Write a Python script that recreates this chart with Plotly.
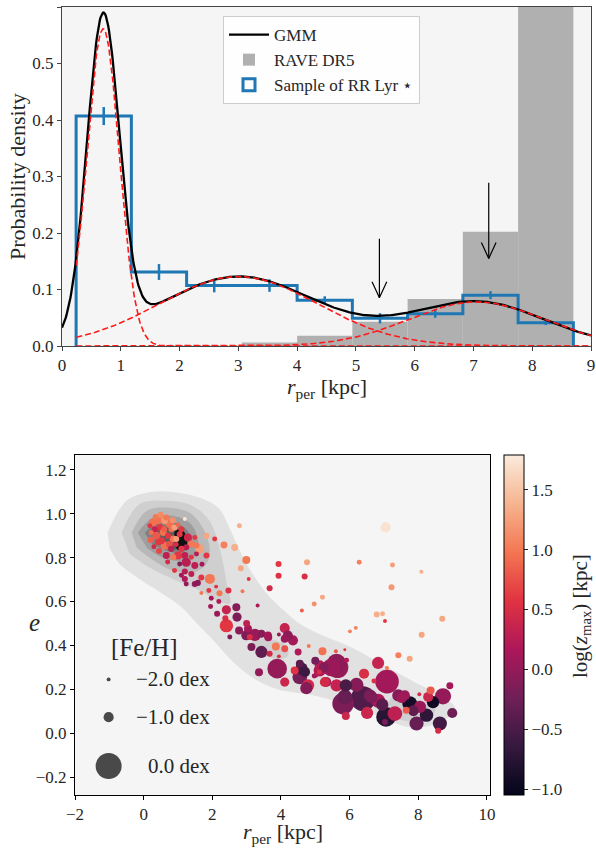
import numpy as np
import plotly.graph_objects as go

# ---------------- top panel data ----------------
bin_edges = [0.24, 1.18, 2.12, 3.06, 4.00, 4.94, 5.88, 6.82, 7.76, 8.70]
rr_density = [0.407, 0.131, 0.107, 0.107, 0.081, 0.049, 0.057, 0.090, 0.041]
rr_err = [0.016, 0.014, 0.012, 0.011, 0.007, 0.009, 0.007, 0.007, 0.004]
rave_density = [0.0, 0.0, 0.0, 0.006, 0.018, 0.043, 0.083, 0.202, 0.95]
gmm_mean = [0.70, 3.00, 7.05]
gmm_sigma = [0.275, 1.35, 1.15]
gmm_weight = [0.387, 0.416, 0.225]
arrow_x = [5.40, 7.26]
arrow_top = [0.190, 0.289]
arrow_tip = [0.0855, 0.155]
top_xticks = [0, 1, 2, 3, 4, 5, 6, 7, 8, 9]
top_yticks = [0.0, 0.1, 0.2, 0.3, 0.4, 0.5, 0.6]

# ---------------- bottom panel data ----------------
# core (inner clump)
core_rper = [1.20, 0.27, 0.42, 0.61, 0.76, 0.47, 0.32, 0.81, 0.90, 1.10,
             0.57, 0.37, 0.71, 0.52, 0.86, 1.29, 1.39, 1.24, 1.10, 1.83,
             1.63, 1.54, 0.61, 0.80, 1.00, 1.20, 0.66, 0.86, 1.24, 1.05,
             1.49, 1.54, 1.39, 1.20, 0.90, 1.39, 1.93, 1.58, 1.68, 1.24,
             0.42, 0.22, 0.18, 0.66, 1.49, 1.83, 0.95, 1.05, 2.34, 2.65,
             2.07, 1.20, 1.49, 0.35, 0.50, 0.85, 0.20, 0.45, 0.75, 0.60,
             1.00, 0.30, 0.95, 1.70, 1.10, 0.70]
core_ecc = [0.976, 0.960, 0.968, 0.968, 0.953, 0.938, 0.930, 0.930, 0.938, 0.930,
            0.915, 0.900, 0.900, 0.877, 0.885, 0.892, 0.862, 0.847, 0.840, 0.900,
            0.840, 0.855, 0.855, 0.840, 0.810, 0.810, 0.810, 0.802, 0.779, 0.771,
            0.764, 0.817, 0.802, 0.737, 0.741, 0.726, 0.703, 0.685, 0.710, 0.680,
            0.870, 0.915, 0.945, 0.983, 0.892, 0.810, 0.885, 0.907, 0.858, 0.846,
            0.885, 0.703, 0.680, 0.985, 0.995, 0.970, 0.880, 0.830, 0.860, 0.930,
            0.950, 0.850, 0.860, 0.770, 0.720, 0.780]
core_feh = [-2.0, -1.25, -1.4, -1.4, -1.25, -1.4, -1.55, -1.55, -1.55, -1.55,
            -1.4, -1.25, -1.55, -1.4, -1.4, -1.25, -1.4, -1.55, -1.55, -1.55,
            -1.1, -1.55, -1.25, -1.55, -1.25, -1.4, -1.4, -1.55, -1.1, -1.75,
            -1.4, -1.75, -1.75, -1.55, -1.75, -1.55, -1.0, -1.55, -1.55, -1.75,
            -1.55, -1.75, -1.75, -1.55, -1.75, -1.55, -1.55, -1.55, -1.4, -1.4,
            -1.75, -1.55, -1.55, -1.55, -1.55, -1.55, -1.55, -1.55, -1.4, -1.55,
            -1.75, -1.75, -1.75, -1.75, -1.75, -1.75]
core_logz = [1.75, 0.95, 0.95, 1.2, 0.95, 0.6, 0.35, 0.95, 1.25, 0.6,
             0.95, 0.8, 0.6, 0.6, 1.0, 0.4, 1.0, 0.25, 0.6, 1.3,
             1.25, 1.0, 0.95, 0.3, 0.6, 0.3, 0.3, 1.0, 0.25, -0.1,
             0.3, 0.25, 0.6, 0.25, 0.6, 0.3, 1.0, -0.05, 0.6, 0.0,
             0.6, 0.95, 0.6, 1.0, 0.6, 0.6, 1.25, 0.6, 1.05, 1.35,
             0.6, 0.2, -0.05, 1.0, 1.1, 1.15, 0.85, 0.7, 0.75, 0.85,
             0.9, 0.45, 0.5, 0.15, 0.1, 0.45]

# scattered halo-like stars
halo_rper = [2.79, 7.05, 3.93, 4.76, 6.28, 7.25, 8.09, 3.93, 4.69, 2.99,
             2.83, 3.06, 3.67, 7.22, 5.21, 4.97, 4.61, 3.32, 2.88, 6.79,
             6.96, 7.03, 8.70, 8.10, 6.18, 6.01, 7.42, 7.75, 4.81, 5.21,
             5.60, 5.86]
halo_ecc = [0.945, 0.938, 0.771, 0.779, 0.779, 0.767, 0.736, 0.718, 0.714, 0.789,
            0.752, 0.703, 0.661, 0.665, 0.620, 0.589, 0.559, 0.582, 0.647, 0.541,
            0.544, 0.511, 0.521, 0.448, 0.480, 0.464, 0.355, 0.339, 0.397, 0.373,
            0.373, 0.380]
halo_feh = [-1.75, -1.0, -1.55, -1.55, -1.75, -1.75, -2.0, -1.55, -1.55, -1.25,
            -1.55, -2.0, -1.55, -1.55, -1.75, -1.75, -2.0, -2.0, -2.0, -1.55,
            -1.75, -2.0, -1.55, -1.55, -2.0, -2.0, -1.55, -1.55, -2.0, -1.25,
            -2.0, -2.3]
halo_logz = [1.35, 1.72, 0.6, 1.3, 1.05, 1.25, 1.35, 0.55, 0.5, 1.0,
             1.3, 0.6, 0.45, 1.2, 1.3, 1.15, 0.85, 0.2, 1.0, 1.35,
             1.35, 0.6, 1.3, 1.3, 1.05, 1.05, 1.05, 1.3, 1.0, 0.95,
             0.8, 0.6]

# band of stars towards low eccentricity
band_rper = [1.68, 1.90, 2.11, 2.47, 2.21, 2.19, 1.97, 1.95, 2.14, 2.41,
             2.70, 2.72, 2.41, 2.38, 2.51, 2.78, 3.04, 3.24, 3.09, 3.43,
             3.62, 4.11, 4.35, 4.11, 3.94, 3.14, 3.43, 3.67, 3.85, 4.11,
             4.50, 3.94, 3.36, 3.89, 4.11, 4.40, 4.55, 4.55, 4.79, 5.02,
             5.13, 5.25, 5.65, 5.32, 5.62, 5.89, 5.91, 6.83, 6.42, 6.71,
             7.09, 7.09, 6.39, 6.59, 5.81, 5.89, 6.51, 7.06, 7.03, 7.32,
             7.42, 7.61, 7.75, 7.65, 7.85, 7.95, 8.24, 8.03, 8.29, 8.36,
             8.43, 8.72, 8.92, 8.99, 8.63, 8.58, 6.83, 4.97, 5.12, 4.70,
             2.99, 4.60, 5.13, 5.28, 5.47, 4.74, 5.86, 5.62, 6.64, 7.52,
             7.86, 4.20, 3.63, 5.00, 6.20, 8.05, 6.95, 3.00]
band_ecc = [0.639, 0.650, 0.668, 0.650, 0.638, 0.600, 0.615, 0.577, 0.544, 0.562,
            0.574, 0.529, 0.490, 0.524, 0.438, 0.468, 0.476, 0.448, 0.438, 0.453,
            0.445, 0.479, 0.423, 0.430, 0.450, 0.393, 0.370, 0.362, 0.395, 0.385,
            0.370, 0.350, 0.278, 0.294, 0.233, 0.286, 0.256, 0.316, 0.218, 0.264,
            0.309, 0.300, 0.300, 0.233, 0.218, 0.218, 0.332, 0.320, 0.271, 0.238,
            0.297, 0.235, 0.157, 0.172, 0.135, 0.078, 0.092, 0.074, 0.051, 0.089,
            0.172, 0.172, 0.135, 0.104, 0.104, 0.044, 0.082, 0.177, 0.165, 0.195,
            0.141, 0.168, 0.216, 0.092, 0.044, 0.011, 0.148, 0.261, 0.279, 0.279,
            0.446, 0.294, 0.286, 0.233, 0.300, 0.205, 0.165, 0.317, 0.165, 0.160,
            0.100, 0.445, 0.437, 0.330, 0.220, 0.120, 0.130, 0.500]
band_feh = [-2.0, -1.75, -2.0, -1.55, -1.55, -1.75, -1.75, -1.75, -1.55, -1.1,
            -1.25, -1.1, -0.7, -1.55, -1.75, -1.25, -1.25, -0.8, -1.55, -1.25,
            -1.25, -1.0, -1.0, -1.25, -2.0, -1.25, -0.8, -1.55, -1.25, -1.4,
            -1.4, -2.0, -1.25, -0.3, -1.1, -1.25, -0.6, -1.25, -0.8, -1.75,
            -1.0, -1.0, -0.2, -1.0, -0.8, -0.8, -1.75, -0.8, -1.0, -1.75,
            -2.0, -0.1, -0.05, -0.8, -0.2, -1.25, -0.8, -0.3, -1.55, -0.6,
            -0.8, -1.0, -0.6, -1.4, -1.0, -0.65, -0.7, -2.0, -1.0, -1.25,
            -0.8, -0.5, -1.4, -1.0, -0.65, -1.55, -0.65, -1.75, -1.75, -1.0,
            -1.0, -0.8, -0.8, -1.0, -0.4, -0.8, -0.6, -0.3, -0.8, -1.0,
            -1.0, -1.0, -1.25, -1.25, -0.65, -0.8, -0.8, -1.4]
band_logz = [1.0, 0.6, 0.55, 0.55, 1.0, 0.2, 0.15, 0.1, 0.05, 0.35,
             -0.1, -0.15, 0.6, 0.5, -0.1, -0.05, 0.1, 0.05, 0.5, -0.1,
             0.15, 0.35, 0.1, 0.05, -0.05, -0.15, -0.35, 0.45, 1.0, 0.75,
             0.2, 0.5, 0.0, 0.0, 0.4, 0.55, -0.2, -0.4, 0.45, 0.3,
             0.25, -0.1, 0.0, 0.15, 0.35, -0.5, 0.2, 0.35, 0.5, 0.55,
             1.0, 0.1, -0.45, -0.2, -0.15, 0.4, 0.4, -0.75, -0.2, 0.3,
             -0.1, 0.05, -0.9, 0.8, -0.3, -0.3, -0.7, 0.5, 0.4, 0.8,
             -0.95, 0.0, 0.1, -0.25, -0.55, 0.45, 0.15, 0.1, 0.5, -0.6,
             -0.15, -0.55, 0.2, 0.45, 0.05, -0.1, -0.3, -0.05, -0.15, 0.1,
             -0.35, -0.05, 0.1, -0.2, -0.1, 0.05, -0.4, 0.3]

# density contours (outlines), outermost first
lev1_x = [-1.05, -0.50, 0.26, 1.05, 1.72, 2.20, 2.53, 2.87, 3.22, 3.62, 4.08, 4.58, 5.22, 6.0, 6.97, 7.90, 8.72, 9.07,
          8.63, 7.76, 6.50, 5.0, 3.9, 3.2, 2.6, 2.05, 1.55, 1.10, 0.50, -0.10, -0.72, -0.99]
lev1_y = [0.914, 1.059, 1.100, 1.095, 1.068, 1.023, 0.925, 0.810, 0.715, 0.630, 0.560, 0.495, 0.445, 0.395, 0.312, 0.232, 0.164, 0.114,
          0.050, 0.027, 0.100, 0.170, 0.200, 0.250, 0.325, 0.420, 0.500, 0.575, 0.640, 0.700, 0.775, 0.845]
lev2_x = [-0.64, -0.12, 0.67, 1.43, 1.92, 2.13, 2.30, 2.42, 2.51, 2.13, 1.63, 0.96, 0.17, -0.41, None,
          3.1, 3.6, 4.15, 4.2, 3.8, 3.3, None,
          7.2, 8.0, 8.5, 8.3, 7.5, 7.0]
lev2_y = [0.914, 1.045, 1.059, 1.036, 0.968, 0.891, 0.786, 0.682, 0.591, 0.605, 0.650, 0.695, 0.755, 0.818, None,
          0.43, 0.43, 0.40, 0.35, 0.34, 0.38, None,
          0.16, 0.15, 0.12, 0.06, 0.06, 0.10]
lev3_x = [-0.35, 0.09, 0.76, 1.34, 1.72, 1.92, 1.84, 1.43, 0.85, 0.17, -0.20]
lev3_y = [0.914, 1.014, 1.027, 1.005, 0.936, 0.845, 0.773, 0.732, 0.741, 0.800, 0.845]
lev4_x = [-0.17, 0.26, 0.85, 1.34, 1.57, 1.55, 1.14, 0.55, 0.09]
lev4_y = [0.914, 0.982, 0.991, 0.959, 0.891, 0.818, 0.786, 0.800, 0.845]
lev5_x = [0.03, 0.41, 0.90, 1.28, 1.40, 1.14, 0.67, 0.23]
lev5_y = [0.914, 0.959, 0.959, 0.923, 0.864, 0.823, 0.832, 0.864]
lev6_x = [0.25, 0.55, 0.95, 1.22, 1.18, 0.85, 0.45]
lev6_y = [0.905, 0.940, 0.935, 0.895, 0.845, 0.838, 0.862]
lev7_x = [0.90, 1.10, 1.26, 1.22, 1.00, 0.88]
lev7_y = [0.920, 0.930, 0.890, 0.840, 0.835, 0.870]
level_colors = ['#e1e1e1', '#cfcfcf', '#b8b8b8', '#9e9e9e', '#808080', '#5c5c5c', '#101010']

size_legend_feh = [-2.0, -1.0, 0.0]
size_legend_labels = ['−2.0 dex', '−1.0 dex', '0.0 dex']
cbar_ticks = [-1.0, -0.5, 0.0, 0.5, 1.0, 1.5]

# ---------------- styling ----------------
W, H = 596, 853
FONT = 'Liberation Serif'
BLUE = '#1f77b4'
TXT = '#262626'
ROCKET = [[0.0, '#03051a'], [1 / 7, '#35193e'], [2 / 7, '#701f57'], [3 / 7, '#ad1759'],
          [4 / 7, '#e13342'], [5 / 7, '#f37651'], [6 / 7, '#f6b48f'], [1.0, '#faebdd']]


def fx(p):
    return p / W


def fy(p):
    return 1 - p / H


def feh_to_diam(f):
    return 26.0 * 10 ** (0.41 * np.asarray(f, dtype=float))


fig = go.Figure()

# ---- top panel ----
centers = [(a + b) / 2 for a, b in zip(bin_edges[:-1], bin_edges[1:])]
widths = [b - a for a, b in zip(bin_edges[:-1], bin_edges[1:])]
fig.add_trace(go.Bar(x=centers, y=rave_density, width=widths, name='RAVE DR5',
                     marker=dict(color='#b0b0b0', line=dict(width=0)),
                     legendrank=2, xaxis='x', yaxis='y', hoverinfo='skip'))
step_x = [bin_edges[0]] + bin_edges[:-1] + [bin_edges[-1]]
step_y = [0.0] + rr_density + [0.0]
fig.add_trace(go.Scatter(x=step_x, y=step_y, mode='lines', showlegend=False,
                         line=dict(shape='hv', color=BLUE, width=3), xaxis='x', yaxis='y'))
fig.add_trace(go.Scatter(x=centers, y=rr_density, mode='markers', showlegend=False,
                         marker=dict(size=1, color=BLUE, opacity=0),
                         error_y=dict(type='data', array=rr_err, color=BLUE, thickness=2.5, width=0),
                         xaxis='x', yaxis='y'))
fig.add_trace(go.Bar(x=[None], y=[None], name='Sample of RR Lyr ⋆', legendrank=3,
                     marker=dict(color='rgba(255,255,255,0)', line=dict(color=BLUE, width=3)),
                     xaxis='x', yaxis='y'))

xg = np.linspace(0, 9, 700)
comps = [w / (s * np.sqrt(2 * np.pi)) * np.exp(-(xg - m) ** 2 / (2 * s ** 2))
         for m, s, w in zip(gmm_mean, gmm_sigma, gmm_weight)]
fig.add_trace(go.Scatter(x=xg, y=np.sum(comps, axis=0), mode='lines', name='GMM', legendrank=1,
                         line=dict(color='black', width=2.3), xaxis='x', yaxis='y'))
mask = xg >= bin_edges[0]
for c in comps:
    fig.add_trace(go.Scatter(x=xg[mask], y=c[mask], mode='lines', showlegend=False,
                             line=dict(color='#ff1a1a', width=1.6, dash='6px,3px'),
                             xaxis='x', yaxis='y'))

# arrows (open V heads)
for ax_, top_, tip_ in zip(arrow_x, arrow_top, arrow_tip):
    hx, hy = 0.125, 0.028
    fig.add_trace(go.Scatter(x=[ax_, ax_, None, ax_ - hx, ax_, ax_ + hx],
                             y=[top_, tip_, None, tip_ + hy, tip_, tip_ + hy],
                             mode='lines', showlegend=False,
                             line=dict(color='black', width=1.2), xaxis='x', yaxis='y'))

# ---- bottom panel ----
levels = [(lev1_x, lev1_y), (lev2_x, lev2_y), (lev3_x, lev3_y), (lev4_x, lev4_y),
          (lev5_x, lev5_y), (lev6_x, lev6_y), (lev7_x, lev7_y)]
for (lx, ly), col in zip(levels, level_colors):
    fig.add_trace(go.Scatter(x=lx, y=ly, mode='lines', fill='toself', fillcolor=col,
                             line=dict(width=0, shape='spline', smoothing=1.0, color=col),
                             showlegend=False, hoverinfo='skip', xaxis='x2', yaxis='y2'))

rper = np.array(core_rper + halo_rper + band_rper)
ecc = np.array(core_ecc + halo_ecc + band_ecc)
feh = np.array(core_feh + halo_feh + band_feh)
logz = np.array(core_logz + halo_logz + band_logz)
order = np.argsort(-feh, kind='stable')
fig.add_trace(go.Scatter(
    x=rper[order], y=ecc[order], mode='markers', showlegend=False, xaxis='x2', yaxis='y2',
    marker=dict(size=feh_to_diam(feh[order]), color=logz[order], colorscale=ROCKET,
                cmin=-1.05, cmax=1.79, opacity=1, line=dict(width=0),
                colorbar=dict(x=fx(504), xanchor='left', y=fy(795), yanchor='bottom',
                              len=(795 - 455) / H, lenmode='fraction', thickness=20,
                              thicknessmode='pixels', xpad=0, ypad=0,
                              outlinewidth=1, outlinecolor='black',
                              ticks='outside', ticklen=4, tickcolor=TXT,
                              tickvals=cbar_ticks, tickformat='.1f',
                              tickfont=dict(family=FONT, size=17, color=TXT)))))

# size legend
leg_y = [0.245, 0.073, -0.150]
fig.add_trace(go.Scatter(x=[-1.02] * 3, y=leg_y, mode='markers', showlegend=False,
                         marker=dict(size=feh_to_diam(size_legend_feh), color='black', line=dict(width=0)),
                         xaxis='x2', yaxis='y2', hoverinfo='skip'))

annotations = []
for lbl, yy in zip(size_legend_labels, leg_y):
    annotations.append(dict(x=1.98, y=yy, xref='x2', yref='y2', text=lbl, showarrow=False,
                            xanchor='right', yanchor='middle',
                            font=dict(family=FONT, size=21, color=TXT)))
annotations.append(dict(x=0.03, y=0.39, xref='x2', yref='y2', text='[Fe/H]', showarrow=False,
                        xanchor='center', yanchor='middle', font=dict(family=FONT, size=25, color=TXT)))
# axis titles
title_specs = [
    (17, 177, 'Probability density', -90, 22),
    (327, 388, '<i>r</i><sub>per</sub> [kpc]', 0, 22),
    (283, 833, '<i>r</i><sub>per</sub> [kpc]', 0, 22),
    (34, 622, '<i>e</i>', 0, 25),
    (581, 616, 'log(<i>z</i><sub>max</sub>) [kpc]', -90, 21),
]
for px_, py_, txt, ang, sz in title_specs:
    annotations.append(dict(x=fx(px_), y=fy(py_), xref='paper', yref='paper', text=txt,
                            textangle=ang, showarrow=False, xanchor='center', yanchor='middle',
                            font=dict(family=FONT, size=sz, color=TXT)))

axis_common = dict(showgrid=False, zeroline=False, ticks='outside', ticklen=4, tickwidth=1,
                   tickfont=dict(family=FONT, size=17, color=TXT), showline=True, mirror=True,
                   automargin=False)

fig.update_layout(
    width=W, height=H, margin=dict(l=0, r=0, t=0, b=0, autoexpand=False),
    paper_bgcolor='white', plot_bgcolor='#f5f5f5',
    barmode='overlay', showlegend=True,
    legend=dict(x=fx(223), y=fy(16), xanchor='left', yanchor='top',
                bgcolor='rgba(255,255,255,0.85)', bordercolor='#cccccc', borderwidth=1,
                font=dict(family=FONT, size=17, color=TXT), tracegroupgap=0, itemwidth=40),
    xaxis=dict(domain=[fx(62), fx(591)], range=[0, 9], tickvals=top_xticks, anchor='y',
               linecolor='#444444', tickcolor='#444444', **axis_common),
    yaxis=dict(domain=[fy(346), fy(7)], range=[0, 0.6], tickvals=top_yticks, tickformat='.1f',
               anchor='x', linecolor='#444444', tickcolor='#444444', **axis_common),
    xaxis2=dict(domain=[fx(75), fx(490)], range=[-2, 10.09], tickvals=[-2, 0, 2, 4, 6, 8, 10],
                anchor='y2', linecolor='black', tickcolor='black', **axis_common),
    yaxis2=dict(domain=[fy(795), fy(455)], range=[-0.282, 1.268],
                tickvals=[-0.2, 0.0, 0.2, 0.4, 0.6, 0.8, 1.0, 1.2], tickformat='.1f',
                anchor='x2', linecolor='black', tickcolor='black', **axis_common),
    annotations=annotations,
)
# remove the default 8 px page margin so the 596x853 figure fills the window exactly
fig.write_html('out.html', config={'displayModeBar': False},
               post_script="document.body.style.margin='0px'; document.body.style.overflow='hidden';")
